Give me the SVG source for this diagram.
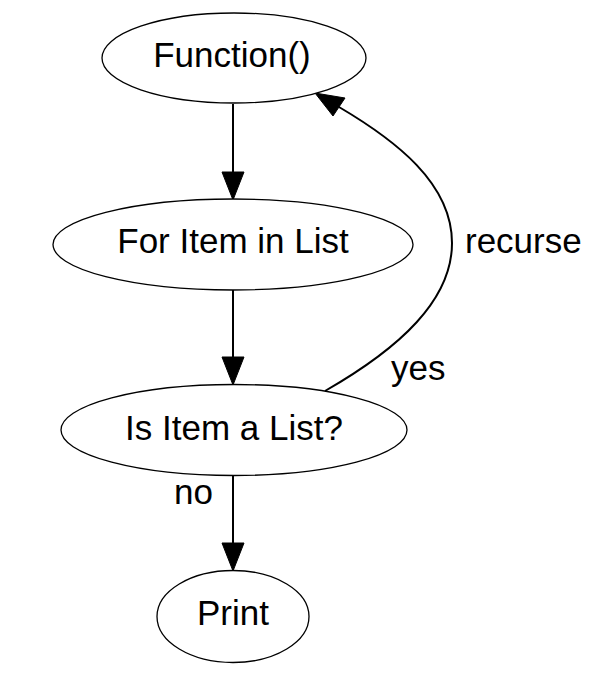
<svg xmlns="http://www.w3.org/2000/svg" width="602" height="676" viewBox="0 0 602 676">
<style>
.node ellipse{fill:#fff;stroke:#000;stroke-width:1.3}
text{font-family:"Liberation Sans",Arial,Helvetica,sans-serif;font-size:35px;fill:#000}
.node text{text-anchor:middle}
.edge{fill:none;stroke:#000;stroke-width:2}
.head{fill:#000;stroke:#000;stroke-width:1}
</style>
<rect width="602" height="676" fill="#fff"/>
<g id="connectors">
<path class="edge" d="M233,104 V172"/>
<polygon class="head" points="222,172 244,172 233,200"/>
<path class="edge" d="M233,290 V357"/>
<polygon class="head" points="222,357 244,357 233,385"/>
<path class="edge" d="M233,476 V543"/>
<polygon class="head" points="222,543 244,543 233,571"/>
<path class="edge" d="M325,391 C400,348 452,300 452,243 C452,183 395,140 339,107"/>
<polygon class="head" points="333,116 345,98 315,93"/>
<text x="391" y="380">yes</text>
<text x="465" y="253">recurse</text>
<text x="174" y="504">no</text>
</g>
<g id="function" class="node">
<ellipse cx="234" cy="58" rx="132" ry="45"/>
<text x="232" y="67">Function()</text>
</g>
<g id="for" class="node">
<ellipse cx="233" cy="244.5" rx="180" ry="45.5"/>
<text x="233" y="253">For Item in List</text>
</g>
<g id="isitem" class="node">
<ellipse cx="234" cy="430" rx="173" ry="45.5"/>
<text x="234" y="440">Is Item a List?</text>
</g>
<g id="print" class="node">
<ellipse cx="233" cy="616.5" rx="76" ry="46"/>
<text x="233" y="625">Print</text>
</g>
</svg>
